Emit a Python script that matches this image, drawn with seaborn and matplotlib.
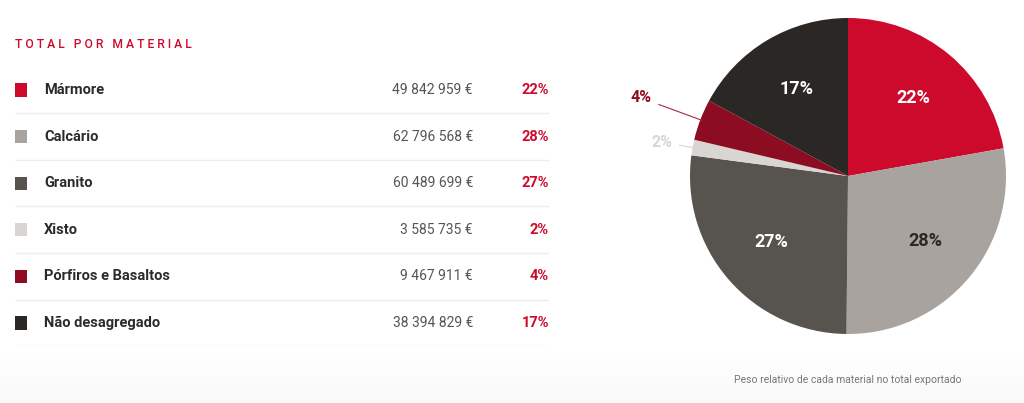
import numpy as np
import pandas as pd
import matplotlib
matplotlib.use("Agg")
import matplotlib.pyplot as plt
import seaborn as sns

# dados
materiais = ["Mármore", "Calcário", "Granito", "Xisto", "Pórfiros e Basaltos", "Não desagregado"]
valores = [49842959, 62796568, 60489699, 3585735, 9467911, 38394829]
cores = ["#cd0a2b", "#a8a39f", "#57534e", "#d8d5d2", "#8c0d22", "#2b2725"]
pct_cores = ["white", "#2b2725", "white", "#d8d5d2", "#8c0d22", "white"]

sns.set_theme(style="white")
plt.rcParams["font.family"] = ["Roboto", "DejaVu Sans"]

df = pd.DataFrame({"material": materiais, "valor": valores})
df["pct"] = df["valor"] / df["valor"].sum() * 100
df["linha"] = np.arange(len(df))
df["x"] = 5.5

def fmt_euro(v):
    return "{:,}".format(v).replace(",", " ") + " €"

fig = plt.figure(figsize=(10.24, 4.03), dpi=100)
fig.patch.set_facecolor("white")

# fundo levemente acinzentado no rodapé
grad = np.linspace(1.0, 0.975, 50).reshape(-1, 1)
bg = fig.add_axes([0, 0, 1, 0.12], zorder=-10)
bg.imshow(np.dstack([grad, grad, grad]), aspect="auto", extent=[0, 1, 0, 1])
bg.axis("off")

############### Tabela ####################
ax = fig.add_axes([15 / 1024, 0.1407, 534 / 1024, 0.6938])
sns.scatterplot(data=df, x="x", y="linha", hue="material", palette=cores,
                marker="s", s=90, linewidth=0, legend=False, ax=ax)
ax.set_xlim(0, 534)
ax.set_ylim(len(df) - 0.5, -0.5)
ax.hlines([i + 0.5 for i in df["linha"]], 0, 534, color="#ececec", lw=1)
for _, r in df.iterrows():
    ax.text(29, r["linha"], r["material"], ha="left", va="center",
            fontsize=10.5, fontweight="bold", color="#2b2b2b")
    ax.text(458, r["linha"], fmt_euro(r["valor"]), ha="right", va="center",
            fontsize=10, color="#555555")
    ax.text(534, r["linha"], "%d%%" % round(r["pct"]), ha="right", va="center",
            fontsize=10.5, fontweight="bold", color="#cd0a2b")
ax.axis("off")

titulo = "   ".join(" ".join(p) for p in "TOTAL POR MATERIAL".split())
fig.text(15 / 1024, 1 - 44 / 403, titulo, ha="left", va="center",
         fontsize=8.7, fontweight="medium", color="#cd0a2b")

############### Pizza ####################
axp = fig.add_axes([690 / 1024, (403 - 334) / 403, 316 / 1024, 316 / 403])
wedges, _ = axp.pie(df["valor"], colors=cores, startangle=90, counterclock=False,
                    radius=1, wedgeprops=dict(linewidth=0))
axp.set_xlim(-1, 1)
axp.set_ylim(-1, 1)
axp.set_aspect("equal")

offsets = {3: (-1.18, 0.215), 4: (-1.31, 0.494)}
for i, w in enumerate(wedges):
    ang = np.deg2rad((w.theta1 + w.theta2) / 2)
    txt = "%d%%" % round(df["pct"][i])
    if i in offsets:
        axp.annotate(txt, xy=(0.99 * np.cos(ang), 0.99 * np.sin(ang)),
                     xytext=offsets[i], ha="center", va="center",
                     fontsize=11.5, fontweight="bold", color=pct_cores[i],
                     arrowprops=dict(arrowstyle="-", color=pct_cores[i] if i == 3 else "#a8283c",
                                     lw=0.8, shrinkA=3, shrinkB=0))
    else:
        axp.text(0.64 * np.cos(ang), 0.64 * np.sin(ang), txt, ha="center", va="center",
                 fontsize=13, fontweight="bold", color=pct_cores[i])

fig.text(848 / 1024, 1 - 380 / 403, "Peso relativo de cada material no total exportado",
         ha="center", va="center", fontsize=7.5, color="#777777")

plt.savefig("out.png", dpi=100)
